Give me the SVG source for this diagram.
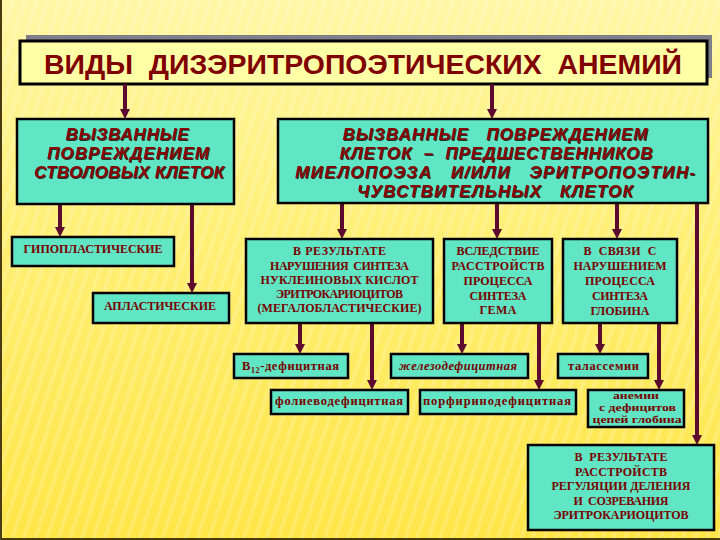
<svg xmlns="http://www.w3.org/2000/svg" width="720" height="540" viewBox="0 0 720 540">
<defs>
<linearGradient id="bg" x1="0" y1="0" x2="0" y2="1">
<stop offset="0" stop-color="#FFF7A6"/>
<stop offset="0.45" stop-color="#FFEF74"/>
<stop offset="1" stop-color="#FFE547"/>
</linearGradient>
<pattern id="stripes" width="11" height="40" patternUnits="userSpaceOnUse" patternTransform="rotate(18)">
<rect x="0" y="0" width="4" height="40" fill="#FFFFFF" opacity="0.16"/>
</pattern>
<marker id="ah" markerUnits="userSpaceOnUse" markerWidth="12" markerHeight="12" viewBox="0 0 12 12" refX="3" refY="6" orient="auto">
<path d="M0,1 L10,6 L0,11 z" fill="#5C0A2E"/>
</marker>
<filter id="sh" x="-5%" y="-20%" width="110%" height="140%">
<feDropShadow dx="1" dy="1" stdDeviation="0.3" flood-color="#000000" flood-opacity="0.75"/>
</filter>
</defs>
<style>
.box{fill:#60E6C4;stroke:#000;stroke-width:2.5}
.title{fill:#FFFFA6;stroke:#000;stroke-width:3}
.tt{font-family:"Liberation Sans",Arial,sans-serif;font-weight:bold;font-size:28px;fill:#800000;text-anchor:middle}
.it{font-family:"Liberation Sans",Arial,sans-serif;font-weight:bold;font-style:italic;font-size:17px;fill:#8B0000;text-anchor:middle;filter:url(#sh)}
.sf{font-family:"Liberation Serif","Times New Roman",serif;font-weight:bold;font-size:12px;fill:#7A0000;text-anchor:middle}
.sl{font-family:"Liberation Serif","Times New Roman",serif;font-weight:bold;font-size:12.5px;fill:#7A0000;text-anchor:middle}
.sm{font-family:"Liberation Serif","Times New Roman",serif;font-weight:bold;font-size:10.5px;fill:#7A0000;text-anchor:middle}
.conn line{stroke:#5C0A2E;stroke-width:4;marker-end:url(#ah)}
</style>
<rect width="720" height="540" fill="url(#bg)"/>
<rect width="720" height="540" fill="url(#stripes)"/>
<line x1="1" y1="0" x2="1" y2="540" stroke="#4A3A10" stroke-width="2"/>
<line x1="0" y1="539" x2="720" y2="539" stroke="#4A3A10" stroke-width="2"/>

<g id="title">
<rect x="26" y="35" width="686" height="43" fill="#7E7E8A"/>
<rect class="title" x="20" y="41" width="687" height="43"/>
<text class="tt" x="363" y="74" textLength="638" lengthAdjust="spacingAndGlyphs" xml:space="preserve">ВИДЫ  ДИЗЭРИТРОПОЭТИЧЕСКИХ  АНЕМИЙ</text>
</g>

<g class="conn" id="connectors">
<line x1="125" y1="84" x2="125" y2="112"/>
<line x1="492" y1="84" x2="492" y2="112"/>
<line x1="60" y1="204" x2="60" y2="230"/>
<line x1="192" y1="204" x2="192" y2="286"/>
<line x1="342" y1="203" x2="342" y2="232"/>
<line x1="497" y1="203" x2="497" y2="232"/>
<line x1="617" y1="203" x2="617" y2="232"/>
<line x1="697" y1="203" x2="697" y2="438"/>
<line x1="300" y1="323" x2="300" y2="347"/>
<line x1="372" y1="323" x2="372" y2="383"/>
<line x1="462" y1="323" x2="462" y2="347"/>
<line x1="539" y1="323" x2="539" y2="383"/>
<line x1="600" y1="323" x2="600" y2="347"/>
<line x1="659" y1="323" x2="659" y2="383"/>
</g>

<g id="stem">
<rect class="box" x="17" y="119" width="217" height="85"/>
<text class="it" x="127" y="140" textLength="123">ВЫЗВАННЫЕ</text>
<text class="it" x="128" y="159" textLength="162">ПОВРЕЖДЕНИЕМ</text>
<text class="it" x="129" y="178" textLength="190">СТВОЛОВЫХ КЛЕТОК</text>
</g>

<g id="precursor">
<rect class="box" x="278" y="119" width="430" height="84"/>
<text class="it" x="495" y="140" textLength="305" xml:space="preserve">ВЫЗВАННЫЕ   ПОВРЕЖДЕНИЕМ</text>
<text class="it" x="496" y="159" textLength="313" xml:space="preserve">КЛЕТОК  –  ПРЕДШЕСТВЕННИКОВ</text>
<text class="it" x="495" y="178" textLength="400" xml:space="preserve">МИЕЛОПОЭЗА   И/ИЛИ   ЭРИТРОПОЭТИН-</text>
<text class="it" x="495" y="197" textLength="276" xml:space="preserve">ЧУВСТВИТЕЛЬНЫХ   КЛЕТОК</text>
</g>

<g id="hypo">
<rect class="box" x="12" y="237" width="162" height="29"/>
<text class="sf" x="93" y="253" textLength="139">ГИПОПЛАСТИЧЕСКИЕ</text>
</g>

<g id="aplast">
<rect class="box" x="93" y="293" width="136" height="30"/>
<text class="sf" x="160" y="310" textLength="112">АПЛАСТИЧЕСКИЕ</text>
</g>

<g id="nucleic">
<rect class="box" x="246" y="239" width="187" height="84"/>
<text class="sf" x="339.5" y="255" textLength="93">В РЕЗУЛЬТАТЕ</text>
<text class="sf" x="339.5" y="269.5" textLength="139" xml:space="preserve">НАРУШЕНИЯ  СИНТЕЗА</text>
<text class="sf" x="339.5" y="283.5" textLength="158">НУКЛЕИНОВЫХ КИСЛОТ</text>
<text class="sf" x="339.5" y="297.5" textLength="127">ЭРИТРОКАРИОЦИТОВ</text>
<text class="sf" x="339.5" y="311.7" textLength="164">(МЕГАЛОБЛАСТИЧЕСКИЕ)</text>
</g>

<g id="heme">
<rect class="box" x="444" y="239" width="108" height="84"/>
<text class="sf" x="498" y="255" textLength="83">ВСЛЕДСТВИЕ</text>
<text class="sf" x="498" y="270" textLength="93">РАССТРОЙСТВ</text>
<text class="sf" x="498" y="285" textLength="69">ПРОЦЕССА</text>
<text class="sf" x="498" y="300" textLength="57">СИНТЕЗА</text>
<text class="sf" x="498" y="314" textLength="37">ГЕМА</text>
</g>

<g id="globin">
<rect class="box" x="563" y="239" width="114" height="84"/>
<text class="sf" x="620" y="255" textLength="73" xml:space="preserve">В  СВЯЗИ  С</text>
<text class="sf" x="620" y="270" textLength="93">НАРУШЕНИЕМ</text>
<text class="sf" x="620" y="285" textLength="70">ПРОЦЕССА</text>
<text class="sf" x="620" y="300" textLength="56">СИНТЕЗА</text>
<text class="sf" x="620" y="315" textLength="59">ГЛОБИНА</text>
</g>

<g id="b12">
<rect class="box" x="234" y="354" width="114" height="24"/>
<text class="sl" x="242" y="370" style="text-anchor:start" textLength="97">B<tspan font-size="8" dy="3">12</tspan><tspan dy="-3">-дефицитная</tspan></text>
</g>

<g id="iron">
<rect class="box" x="391" y="354" width="137" height="24"/>
<text class="sl" x="458" y="370" font-style="italic" textLength="118">железодефицитная</text>
</g>

<g id="thal">
<rect class="box" x="558" y="354" width="90" height="24"/>
<text class="sl" x="603.5" y="370" textLength="71">талассемии</text>
</g>

<g id="folic">
<rect class="box" x="271" y="390" width="137" height="24"/>
<text class="sl" x="339" y="405" textLength="128">фолиеводефицитная</text>
</g>

<g id="porph">
<rect class="box" x="420" y="390" width="156" height="24"/>
<text class="sl" x="497" y="405" textLength="148">порфиринодефицитная</text>
</g>

<g id="chains">
<rect class="box" x="588" y="390" width="96" height="37"/>
<text class="sm" x="636" y="399" textLength="46" lengthAdjust="spacingAndGlyphs">анемии</text>
<text class="sm" x="637.5" y="411" textLength="77" lengthAdjust="spacingAndGlyphs">с дефицитов</text>
<text class="sm" x="637" y="423" textLength="89" lengthAdjust="spacingAndGlyphs">цепей глобина</text>
</g>

<g id="regulation">
<rect class="box" x="528" y="445" width="186" height="85"/>
<text class="sf" x="621" y="461" textLength="93" xml:space="preserve">В  РЕЗУЛЬТАТЕ</text>
<text class="sf" x="621" y="475.5" textLength="92">РАССТРОЙСТВ</text>
<text class="sf" x="621" y="490" textLength="139">РЕГУЛЯЦИИ ДЕЛЕНИЯ</text>
<text class="sf" x="621" y="504.5" textLength="95" xml:space="preserve">И  СОЗРЕВАНИЯ</text>
<text class="sf" x="621" y="518.5" textLength="135">ЭРИТРОКАРИОЦИТОВ</text>
</g>
</svg>
